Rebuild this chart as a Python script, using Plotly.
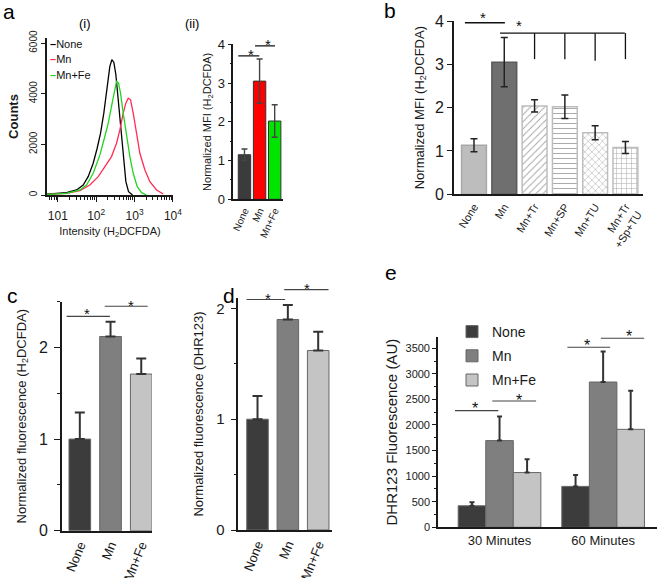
import plotly.graph_objects as go

FONT = "Arial, Liberation Sans, Helvetica, sans-serif"
W, H = 660, 578

# ---------------- data ----------------
# (a)(i) flow-cytometry histograms: intensity vs counts
hist_names = ["None", "Mn", "Mn+Fe"]
hist_colors = ["#000000", "#ff2d55", "#22d422"]
none_int = [5, 9, 16.8, 30.7, 45.8, 61.8, 83.6, 106, 130, 158, 194, 227, 256, 289, 326, 375, 431, 506, 594, 697, 887]
none_cnt = [30, 60, 92, 198, 396, 726, 1253, 1847, 2441, 3232, 4288, 5079, 5343, 5237, 4749, 3760, 2573, 1385, 528, 132, 0]
mn_int = [5, 9, 16.8, 37.5, 68.4, 113, 168, 251, 339, 414, 506, 594, 684, 787, 923, 1127, 1377, 1862, 2512, 3750, 5600]
mn_cnt = [20, 40, 66, 172, 396, 726, 1121, 1517, 2045, 2573, 3232, 3628, 3826, 3760, 3232, 2375, 1649, 990, 528, 198, 40]
mnfe_int = [5, 9, 16.8, 37.5, 56.0, 83.6, 125, 168, 206, 251, 295, 339, 383, 431, 506, 618, 755, 923, 1175, 1524, 2056]
mnfe_cnt = [20, 40, 66, 198, 396, 858, 1583, 2309, 2836, 3496, 4090, 4485, 4420, 4024, 3232, 2309, 1517, 858, 330, 92, 0]
hist_ticks = [10, 100, 1000, 10000]
hist_ticktext = ["101", "10<sup>2</sup>", "10<sup>3</sup>", "10<sup>4</sup>"]

# (a)(ii) normalized MFI
a2_cats = ["None", "Mn", "Mn+Fe"]
a2_vals = [1.15, 3.05, 2.02]
a2_err = [0.15, 0.57, 0.42]
a2_colors = ["#3b3b3b", "#ff0000", "#00e400"]

# (b) normalized MFI with scavengers
b_cats = ["None", "Mn", "Mn+Tr", "Mn+SP", "Mn+TU", "Mn+Tr<br>+Sp+TU"]
b_vals = [1.13, 3.05, 2.04, 2.02, 1.42, 1.08]
b_err = [0.15, 0.57, 0.14, 0.27, 0.16, 0.14]
b_colors = ["#bdbdbd", "#6f6f6f", "#ffffff", "#ffffff", "#ffffff", "#ffffff"]
b_lines = ["#a8a8a8", "#5a5a5a", "#bdbdbd", "#bdbdbd", "#bdbdbd", "#bdbdbd"]
b_patterns = ["", "", "/", "-", "x", "+"]

# (c) H2DCFDA fluorescence
c_cats = ["None", "Mn", "Mn+Fe"]
c_vals = [1.0, 2.12, 1.71]
c_err = [0.29, 0.16, 0.17]

# (d) DHR123 fluorescence
d_cats = ["None", "Mn", "Mn+Fe"]
d_vals = [1.0, 1.90, 1.62]
d_err = [0.21, 0.13, 0.17]

gray3 = ["#3c3c3c", "#7f7f7f", "#c4c4c4"]

# (e) DHR123 fluorescence over time
e_groups = ["30 Minutes", "60 Minutes"]
e_series = ["None", "Mn", "Mn+Fe"]
e_vals = [[420, 800], [1695, 2840], [1070, 1915]]
e_errs = [[70, 220], [470, 595], [260, 755]]

# significance markers: lines (x0, x1, y) and stars (x, y)
a2_sig_lines = [(-0.41, 0.98, 3.70), (0.70, 2.02, 3.96)]
a2_sig_stars = [(0.41, 3.85), (1.58, 4.11)]
b_sig_lines = [(-0.30, 1.02, 3.96), (0.86, 4.98, 3.72)]
b_bracket_drops = [(2, 3.12), (3, 3.12), (4, 3.08), (5, 3.12)]
b_sig_stars = [(0.29, 4.18), (1.50, 3.99)]
c_sig_lines = [(-0.43, 0.98, 2.34), (0.81, 2.21, 2.45)]
c_sig_stars = [(0.24, 2.41), (1.68, 2.50)]
d_sig_lines = [(-0.36, 0.91, 2.08), (0.88, 2.34, 2.17)]
d_sig_stars = [(0.36, 2.13), (1.63, 2.22)]
e_sig_lines = [(-0.430, -0.012, 2281), (-0.070, 0.353, 2470), (0.655, 1.068, 3520), (0.978, 1.396, 3696)]
e_sig_stars = [(-0.237, 2391), (0.191, 2554), (0.842, 3630), (1.245, 3806)]

# ---------------- axes ranges ----------------
R = {
    "y": [0, 6200], "y2": [0, 4], "y3": [0, 4], "y4": [0, 2.5], "y5": [0, 2.094], "y6": [0, 3720],
}


def frac(v, rng):
    return (v - rng[0]) / (rng[1] - rng[0])


fig = go.Figure()

# (a)(i)
for name, xs, ys, col in zip(hist_names, [none_int, mn_int, mnfe_int], [none_cnt, mn_cnt, mnfe_cnt], hist_colors):
    fig.add_trace(go.Scatter(x=xs, y=ys, mode="lines", name=name, line=dict(color=col, width=1.3),
                             showlegend=False, xaxis="x", yaxis="y"))

# (a)(ii)
fig.add_trace(go.Bar(x=list(range(len(a2_cats))), y=a2_vals, width=0.82,
                     marker=dict(color=a2_colors, line=dict(color="#333333", width=1)),
                     error_y=dict(type="data", array=a2_err, color="#444444", thickness=1.4, width=3),
                     showlegend=False, xaxis="x2", yaxis="y2"))

# (b)
fig.add_trace(go.Bar(x=list(range(len(b_cats))), y=b_vals, width=0.82,
                     marker=dict(color=b_colors, line=dict(color=b_lines, width=1.5),
                                 pattern=dict(shape=b_patterns, fgcolor="#c6c6c6", bgcolor="#ffffff",
                                              fillmode="overlay", size=5, solidity=0.18)),
                     error_y=dict(type="data", array=b_err, color="#222222", thickness=1.5, width=3.5),
                     showlegend=False, xaxis="x3", yaxis="y3"))

# (c)
fig.add_trace(go.Bar(x=list(range(len(c_cats))), y=c_vals, width=0.705,
                     marker=dict(color=gray3, line=dict(color="#666666", width=1)),
                     error_y=dict(type="data", symmetric=False, array=c_err, arrayminus=[0] * len(c_err),
                                  color="#333333", thickness=2, width=5),
                     showlegend=False, xaxis="x4", yaxis="y4"))

# (d)
fig.add_trace(go.Bar(x=list(range(len(d_cats))), y=d_vals, width=0.71,
                     marker=dict(color=gray3, line=dict(color="#666666", width=1)),
                     error_y=dict(type="data", symmetric=False, array=d_err, arrayminus=[0] * len(d_err),
                                  color="#333333", thickness=2, width=5),
                     showlegend=False, xaxis="x5", yaxis="y5"))

# (e)
e_w = 0.266
for i, (name, vals, errs) in enumerate(zip(e_series, e_vals, e_errs)):
    fig.add_trace(go.Bar(x=list(range(len(e_groups))), y=vals, name=name, width=e_w, offset=(i - 1.5) * e_w,
                         marker=dict(color=gray3[i], line=dict(color="#666666", width=1)),
                         error_y=dict(type="data", symmetric=False, array=errs, arrayminus=[0] * len(errs),
                                      color="#333333", thickness=2, width=2.5),
                         legendgroup=name, showlegend=True, xaxis="x6", yaxis="y6"))

# significance lines / stars
shapes = []
annos = []


def add_sig(n, lines, stars, color, lw, size):
    xr = "x" + str(n)
    yr = "y" + str(n)
    for x0, x1, y in lines:
        shapes.append(dict(type="line", xref=xr, yref=yr + " domain", x0=x0, x1=x1,
                           y0=frac(y, R[yr]), y1=frac(y, R[yr]), line=dict(color=color, width=lw)))
    for x, y in stars:
        annos.append(dict(text="*", xref=xr, yref=yr + " domain", x=x, y=frac(y, R[yr]),
                          showarrow=False, xanchor="center", yanchor="middle", yshift=-4,
                          font=dict(family=FONT, size=size, color="#111111")))


add_sig(2, a2_sig_lines, a2_sig_stars, "#111111", 1.2, 15)
add_sig(3, b_sig_lines, b_sig_stars, "#111111", 1.3, 15)
for x, y in b_bracket_drops:
    shapes.append(dict(type="line", xref="x3", yref="y3 domain", x0=x, x1=x,
                       y0=frac(b_sig_lines[1][2], R["y3"]), y1=frac(y, R["y3"]),
                       line=dict(color="#111111", width=1.3)))
add_sig(4, c_sig_lines, c_sig_stars, "#444444", 1.1, 15)
add_sig(5, d_sig_lines, d_sig_stars, "#444444", 1.1, 15)
add_sig(6, e_sig_lines, e_sig_stars, "#444444", 1.1, 16)

# panel labels
for txt, px, py, sz in [("a", 9, 12, 21), ("b", 390, 11, 21), ("c", 13, 295, 21), ("d", 229, 295, 21),
                        ("e", 391, 272, 21), ("(i)", 85, 24, 13), ("(ii)", 192, 24, 13)]:
    annos.append(dict(text=txt, xref="paper", yref="paper", x=px / W, y=1 - py / H, showarrow=False,
                      xanchor="center", yanchor="middle", font=dict(family=FONT, size=sz, color="#000000")))

# legend of (a)(i)
for k, (name, col) in enumerate(zip(hist_names, hist_colors)):
    annos.append(dict(text="<span style='color:%s'><b>\u2013</b></span>%s" % (col, name),
                      xref="paper", yref="paper", x=48 / W, y=1 - (44 + 15.5 * k) / H, showarrow=False,
                      xanchor="left", yanchor="middle", font=dict(family=FONT, size=11, color="#111111")))


def base_axis(**kw):
    d = dict(showline=True, linecolor="#1a1a1a", linewidth=1.6, showgrid=False, zeroline=False,
             automargin=False, ticks="outside", ticklen=4, tickwidth=1.4, tickcolor="#1a1a1a",
             tickfont=dict(family=FONT, size=12, color="#1a1a1a"))
    d.update(kw)
    return d


def bar_xaxis(dom, rng, anchor, cats, size, angle):
    return base_axis(domain=dom, range=rng, anchor=anchor, ticks="", tickmode="array",
                     tickvals=list(range(len(cats))), ticktext=cats, tickangle=angle,
                     tickfont=dict(family=FONT, size=size, color="#1a1a1a"))


def ttl(text, size, standoff, bold=False):
    return dict(text=("<b>%s</b>" % text) if bold else text, standoff=standoff,
                font=dict(family=FONT, size=size, color="#1a1a1a"))


minor_log = [k * 10 ** n for n in range(0, 4) for k in range(2, 10)]

fig.update_layout(
    template="none",
    width=W, height=H, margin=dict(l=0, r=0, t=0, b=0, pad=0), autosize=False,
    paper_bgcolor="white", plot_bgcolor="white", barmode="overlay",
    font=dict(family=FONT, color="#1a1a1a"),
    xaxis=base_axis(domain=[46.7 / W, 173.3 / W], type="log", range=[0.71, 4.01], anchor="y",
                    tickmode="array", tickvals=hist_ticks, ticktext=hist_ticktext, ticklen=5,
                    ticklabelstandoff=4,
                    minor=dict(ticks="outside", ticklen=3, tickvals=minor_log, tickcolor="#1a1a1a"),
                    title=ttl("Intensity (H<sub>2</sub>DCFDA)", 11, 5)),
    yaxis=base_axis(domain=[1 - 195 / H, 1 - 38 / H], range=R["y"], anchor="x", dtick=2000,
                    tickangle=-90, tickfont=dict(family=FONT, size=10, color="#1a1a1a"),
                    title=ttl("Counts", 13, 6, bold=True)),
    xaxis2=bar_xaxis([233.3 / W, 283.3 / W], [-0.74, 2.57], "y2", a2_cats, 10, -65),
    yaxis2=base_axis(domain=[1 - 199.3 / H, 1 - 44.3 / H], range=R["y2"], anchor="x2", dtick=1,
                     minor=dict(ticks="outside", ticklen=2, dtick=0.5, tickcolor="#1a1a1a"),
                     tickfont=dict(family=FONT, size=13, color="#1a1a1a"),
                     title=ttl("Normalized MFI (H<sub>2</sub>DCFDA)", 11, 4)),
    xaxis3=bar_xaxis([454 / W, 643 / W], [-0.66, 5.58], "y3", b_cats, 11, -58),
    yaxis3=base_axis(domain=[1 - 194.3 / H, 1 - 21 / H], range=R["y3"], anchor="x3", dtick=1, ticklen=5,
                     tickfont=dict(family=FONT, size=16, color="#1a1a1a"),
                     title=ttl("Normalized MFI (H<sub>2</sub>DCFDA)", 13, 8)),
    xaxis4=bar_xaxis([62 / W, 152 / W], [-0.58, 2.35], "y4", c_cats, 13, -68),
    yaxis4=base_axis(domain=[1 - 530.7 / H, 1 - 301.7 / H], range=R["y4"], anchor="x4", dtick=1, ticklen=6,
                     ticklabelstandoff=3,
                     minor=dict(ticks="outside", ticklen=3, dtick=0.5, tickcolor="#1a1a1a"),
                     tickfont=dict(family=FONT, size=16, color="#1a1a1a"),
                     title=ttl("Normalized fluorescence (H<sub>2</sub>DCFDA)", 13, 10)),
    xaxis5=bar_xaxis([238.3 / W, 331.7 / W], [-0.633, 2.445], "y5", d_cats, 13, -68),
    yaxis5=base_axis(domain=[1 - 530 / H, 1 - 298 / H], range=R["y5"], anchor="x5", dtick=1, ticklen=6,
                     ticklabelstandoff=3,
                     minor=dict(ticks="outside", ticklen=3, dtick=0.5, tickcolor="#1a1a1a"),
                     tickfont=dict(family=FONT, size=15, color="#1a1a1a"),
                     title=ttl("Normalized fluorescence (DHR123)", 13, 10)),
    xaxis6=bar_xaxis([438 / W, 657 / W], [-0.594, 1.52], "y6", e_groups, 13, 0),
    yaxis6=base_axis(domain=[1 - 527.3 / H, 1 - 337 / H], range=R["y6"], anchor="x6", dtick=500, ticklen=4,
                     minor=dict(ticks="outside", ticklen=2, dtick=250, tickcolor="#1a1a1a"),
                     tickfont=dict(family=FONT, size=11, color="#1a1a1a"),
                     title=ttl("DHR123 Fluorescence (AU)", 15, 4)),
    legend=dict(x=452 / W, y=1 - 316 / H, xanchor="left", yanchor="top", bgcolor="rgba(0,0,0,0)",
                font=dict(family=FONT, size=14, color="#1a1a1a"), tracegroupgap=3, itemwidth=30),
    shapes=shapes, annotations=annos,
)

fig.write_html("out.html", config={"displayModeBar": False},
               post_script="document.body.style.margin='0px';document.body.style.overflow='hidden';")
